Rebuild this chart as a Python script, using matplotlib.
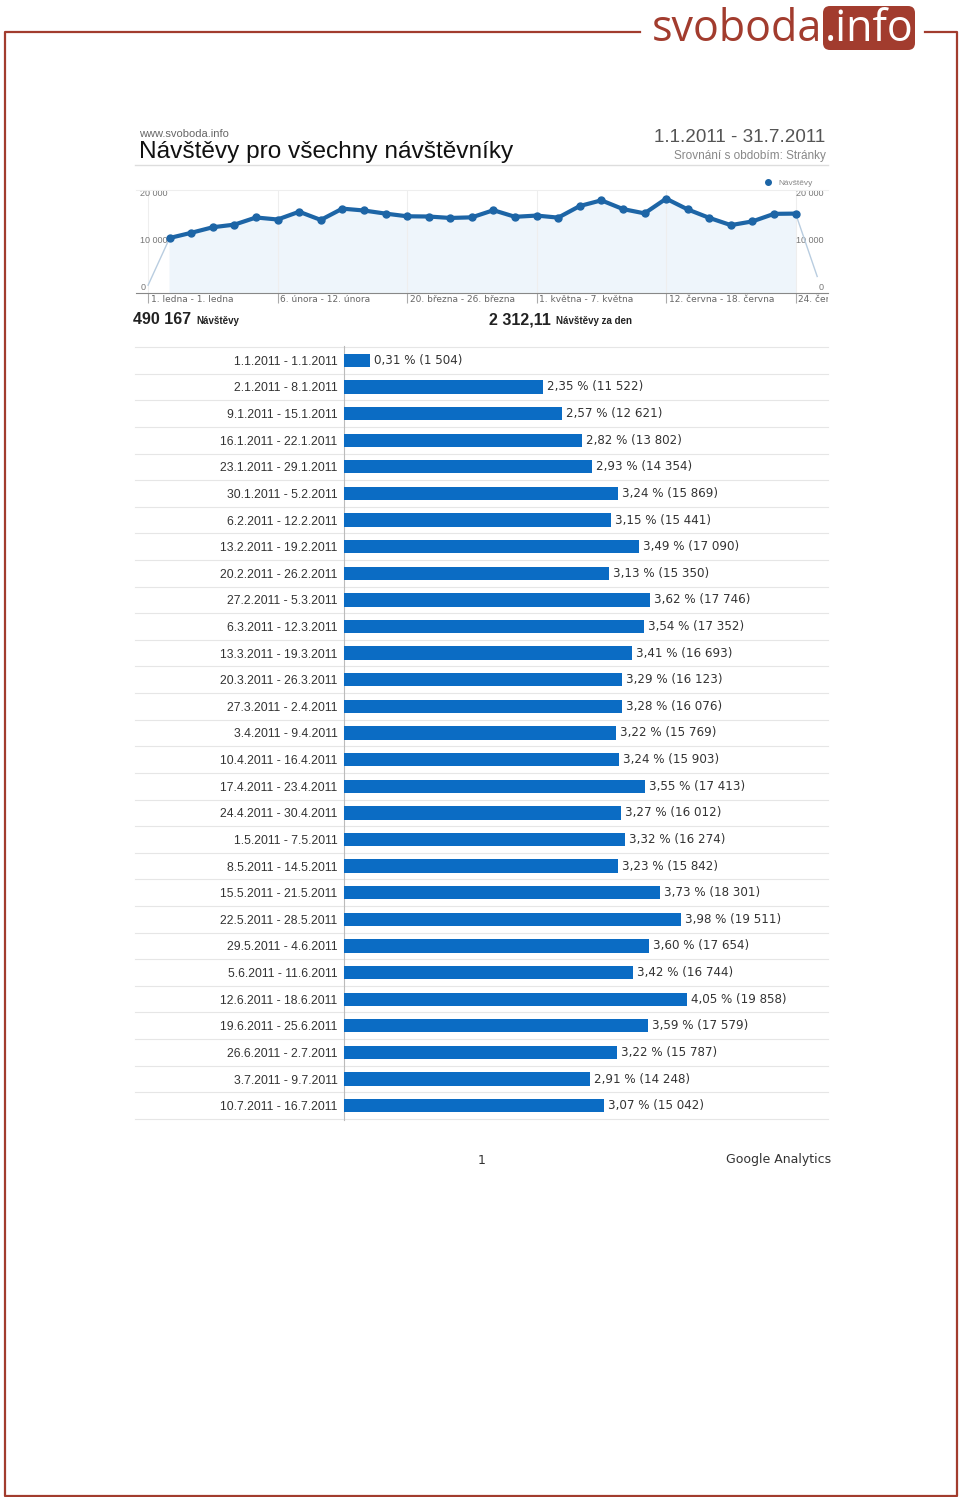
import matplotlib.pyplot as plt
import matplotlib.patches as mpatches
from matplotlib.lines import Line2D
from matplotlib.transforms import Bbox, TransformedBbox

# weekly visits (Google Analytics export)
periods = ["1.1.2011 - 1.1.2011", "2.1.2011 - 8.1.2011", "9.1.2011 - 15.1.2011",
           "16.1.2011 - 22.1.2011", "23.1.2011 - 29.1.2011", "30.1.2011 - 5.2.2011",
           "6.2.2011 - 12.2.2011", "13.2.2011 - 19.2.2011", "20.2.2011 - 26.2.2011",
           "27.2.2011 - 5.3.2011", "6.3.2011 - 12.3.2011", "13.3.2011 - 19.3.2011",
           "20.3.2011 - 26.3.2011", "27.3.2011 - 2.4.2011", "3.4.2011 - 9.4.2011",
           "10.4.2011 - 16.4.2011", "17.4.2011 - 23.4.2011", "24.4.2011 - 30.4.2011",
           "1.5.2011 - 7.5.2011", "8.5.2011 - 14.5.2011", "15.5.2011 - 21.5.2011",
           "22.5.2011 - 28.5.2011", "29.5.2011 - 4.6.2011", "5.6.2011 - 11.6.2011",
           "12.6.2011 - 18.6.2011", "19.6.2011 - 25.6.2011", "26.6.2011 - 2.7.2011",
           "3.7.2011 - 9.7.2011", "10.7.2011 - 16.7.2011"]
visits = [1504, 11522, 12621, 13802, 14354, 15869, 15441, 17090, 15350, 17746,
          17352, 16693, 16123, 16076, 15769, 15903, 17413, 16012, 16274, 15842,
          18301, 19511, 17654, 16744, 19858, 17579, 15787, 14248, 15042]
shares = [0.31, 2.35, 2.57, 2.82, 2.93, 3.24, 3.15, 3.49, 3.13, 3.62,
          3.54, 3.41, 3.29, 3.28, 3.22, 3.24, 3.55, 3.27, 3.32, 3.23,
          3.73, 3.98, 3.60, 3.42, 4.05, 3.59, 3.22, 2.91, 3.07]

# line chart has the rest of July too
line_visits = visits + [16640, 16694, 3353]
line_ticks = [0, 6, 12, 18, 24, 30]
line_tick_labels = ["1. ledna - 1. ledna", "6. února - 12. února",
                    "20. března - 26. března", "1. května - 7. května",
                    "12. června - 18. června", "24. července - 30. července"]
y_ticks = [0, 10000, 20000]
y_tick_labels = ["0", "10 000", "20 000"]

W, H = 960, 1497
RED = "#a23c2e"
BLUE = "#0b6cc4"
LINE = "#1d65a6"


def box(x0, y0, x1, y1):
    return [x0 / W, 1 - y1 / H, (x1 - x0) / W, (y1 - y0) / H]


def ftext(x, y, s, **kw):
    kw.setdefault("va", "center")
    return fig.text(x / W, 1 - y / H, s, **kw)


def fmt_num(v):
    return f"{v:,}".replace(",", " ")


plt.rcParams["font.family"] = ["Liberation Sans", "DejaVu Sans"]
fig = plt.figure(figsize=(W / 100, H / 100), dpi=100)

# page frame
def fline(xs, ys, **kw):
    fig.add_artist(Line2D([x / W for x in xs], [1 - y / H for y in ys],
                          transform=fig.transFigure, **kw))

fline([640, 5, 5, 957, 957, 925], [32, 32, 1496, 1496, 32, 32], color=RED, lw=1.6)

# logo
axl = fig.add_axes(box(640, 0, 930, 60))
axl.set_xlim(640, 930)
axl.set_ylim(60, 0)
axl.axis("off")
axl.add_patch(mpatches.FancyBboxPatch((823, 6), 92, 44, boxstyle="round,pad=0,rounding_size=7",
                                      fc=RED, ec="none"))
axl.text(822, 30, "svoboda", ha="right", va="center", color=RED, fontsize=31,
         family="Open Sans")
axl.text(869, 30, ".info", ha="center", va="center", color="white", fontsize=31,
         family="Open Sans")

# header
ftext(139, 134, "www.svoboda.info", fontsize=8, color="#666666")
ftext(139, 152, "Návštěvy pro všechny návštěvníky", fontsize=17.6, color="#111111")
ftext(825, 138, "1.1.2011 - 31.7.2011", fontsize=13.6, color="#555555", ha="right")
ftext(826, 156, "Srovnání s obdobím: Stránky", fontsize=8.5, color="#888888", ha="right")
fline([135, 828], [165, 165], color="#dddddd", lw=1)

# line chart
ax = fig.add_axes(box(136, 190, 828, 293))
x = list(range(len(line_visits)))
ax.fill_between(x[1:-1], line_visits[1:-1], 0, color="#eef5fb", zorder=1)
ax.plot(x[:2], line_visits[:2], color="#b9cde0", lw=1, zorder=2)
ax.plot(x[-2:], line_visits[-2:], color="#b9cde0", lw=1, zorder=2)
ax.plot(x[1:-1], line_visits[1:-1], color=LINE, lw=3, marker="o", ms=5, zorder=3)
ax.set_xlim(-0.56, 31.5)
ax.set_ylim(-150, 21700)
ax.set_yticks(y_ticks, y_tick_labels)
ax.tick_params(axis="y", length=0, labelleft=True, labelright=True, pad=-3,
               labelsize=6.5, labelcolor="#777777")
for t in ax.yaxis.get_major_ticks():
    t.label1.set_ha("left")
    t.label2.set_ha("right")
    t.label1.set_va("bottom")
    t.label2.set_va("bottom")
ax.set_xticks(line_ticks)
ax.set_xticklabels([])
ax.tick_params(axis="x", length=7, color="#aaaaaa", direction="out")
ax.grid(axis="x", color="#eeeeee", lw=0.8)
for s in ["left", "right"]:
    ax.spines[s].set_visible(False)
ax.spines["top"].set_color("#eeeeee")
ax.spines["bottom"].set_color("#888888")
ax.set_facecolor("white")
clip = TransformedBbox(Bbox([[0, 0], [828 / W, 1]]), fig.transFigure)
for xi, lab in zip(line_ticks, line_tick_labels):
    t = ax.text(xi + 0.12, -0.02, lab, transform=ax.get_xaxis_transform(),
                fontsize=6.5, color="#666666", va="top", ha="left", family="DejaVu Sans")
    t.set_clip_box(clip)
    t.set_clip_on(True)

leg_handle = Line2D([], [], color=LINE, marker="o", ls="none", ms=4)
fig.legend([leg_handle], ["Návštěvy"], loc="center right",
           bbox_to_anchor=(816 / W, 1 - 183 / H), frameon=False, fontsize=6,
           labelcolor="#888888", handletextpad=0.2, borderaxespad=0)

# totals
ftext(133, 320, "490 167", fontsize=11.5, color="#222222", fontweight="bold")
ftext(196, 321, "Návštěvy", fontsize=7, color="#222222", fontweight="bold")
ftext(489, 320, "2 312,11", fontsize=11.5, color="#222222", fontweight="bold")
ftext(556, 321, "Návštěvy za den", fontsize=7, color="#222222", fontweight="bold")

# bar table
axb = fig.add_axes(box(344, 346.5, 828, 1119.5))
rows = list(range(len(periods)))
axb.barh(rows, visits, height=0.5, color=BLUE, zorder=3)
axb.set_xlim(0, 28025)
axb.set_ylim(28.52, -0.52)
axb.set_yticks(rows, periods)
axb.tick_params(axis="y", length=0, pad=4.5, labelsize=8.7, labelcolor="#333333")
axb.set_xticks([])
for s in ["top", "right", "bottom"]:
    axb.spines[s].set_visible(False)
axb.spines["left"].set_color("#bbbbbb")
for r, v, p in zip(rows, visits, shares):
    lab = f"{p:.2f}".replace(".", ",") + " % (" + fmt_num(v) + ")"
    axb.text(v + 230, r, lab, va="center", ha="left", fontsize=8.6, color="#333333",
             family="DejaVu Sans")
ytr = axb.get_yaxis_transform()
for r in [i - 0.5 for i in rows] + [rows[-1] + 0.5]:
    axb.add_artist(Line2D([-0.432, 1], [r, r], transform=ytr, color="#e6e6e6",
                          lw=0.8, clip_on=False, zorder=1))

# footer
ftext(482, 1160, "1", fontsize=9, color="#333333", ha="center", family="DejaVu Sans")
ftext(831, 1160, "Google Analytics", fontsize=9, color="#333333", ha="right",
      family="DejaVu Sans")

fig.savefig("out.png", dpi=100, facecolor="white")
